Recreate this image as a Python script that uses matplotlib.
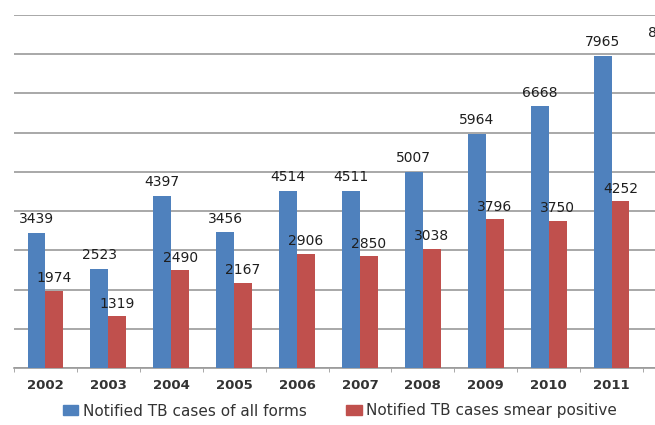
import matplotlib
matplotlib.use("Agg")
import matplotlib.pyplot as plt
import numpy as np
from matplotlib.patches import Patch

# données (2012 est coupée à droite)
years = ["2002", "2003", "2004", "2005", "2006", "2007", "2008", "2009", "2010", "2011", "2012"]
all_forms = [3439, 2523, 4397, 3456, 4514, 4511, 5007, 5964, 6668, 7965, 8180]
smear_pos = [1974, 1319, 2490, 2167, 2906, 2850, 3038, 3796, 3750, 4252, 4400]

BLUE = "#4F81BD"
RED = "#C0504D"
GRID = "#9a9a9a"
TXT = "#1e1e1e"

W, H = 655, 425
fig = plt.figure(figsize=(W / 100, H / 100), dpi=100)
cat_w = 62.9
ax = fig.add_axes([14 / W, 57 / H, cat_w * len(years) / W, 353 / H])

x = np.arange(len(years))
bw = 0.285
b1 = ax.bar(x - bw / 2, all_forms, bw, color=BLUE, zorder=3)
b2 = ax.bar(x + bw / 2, smear_pos, bw, color=RED, zorder=3)


def label_bars(bars, values, dy):
    # étiquettes au-dessus des barres, seulement celles qui tombent dans l'image
    fig.canvas.draw()
    for rect, v in zip(bars, values):
        cx = rect.get_x() + rect.get_width() / 2
        px = ax.transData.transform((cx, v))[0]
        if px > W:
            continue
        ax.annotate(f"{v}", (cx, v), xytext=(0, dy), textcoords="offset points",
                    ha="center", va="bottom", fontsize=10, color=TXT, clip_on=False)


label_bars(b1, all_forms, 5)
label_bars(b2, smear_pos, 4)

ax.set_xlim(-0.5, len(years) - 0.5)
ax.set_ylim(0, 9000)
ax.set_yticks(range(0, 9001, 1000))
ax.yaxis.grid(True, color=GRID, linewidth=1.2, zorder=0)
ax.tick_params(axis="y", left=False, labelleft=False)

ax.set_xticks(x[:-1])
ax.set_xticklabels(years[:-1], fontsize=9.5, color="#333333", fontweight="bold")
ax.set_xticks(np.arange(-0.5, len(years), 1), minor=True)
ax.tick_params(axis="x", which="major", length=0, pad=8)
ax.tick_params(axis="x", which="minor", length=3, color=GRID)

for side in ["top", "right", "left"]:
    ax.spines[side].set_visible(False)
ax.spines["bottom"].set_color(GRID)
ax.spines["bottom"].set_linewidth(1.2)

handles = [Patch(color=BLUE, label="Notified TB cases of all forms"),
           Patch(color=RED, label="Notified TB cases smear positive")]
fig.legend(handles=handles, loc="center", bbox_to_anchor=(340 / W, 14 / H), ncol=2,
           frameon=False, fontsize=11, handlelength=1.0, handleheight=0.55,
           handletextpad=0.3, columnspacing=2.6, labelcolor="#333333")

plt.savefig("out.png", dpi=100)
